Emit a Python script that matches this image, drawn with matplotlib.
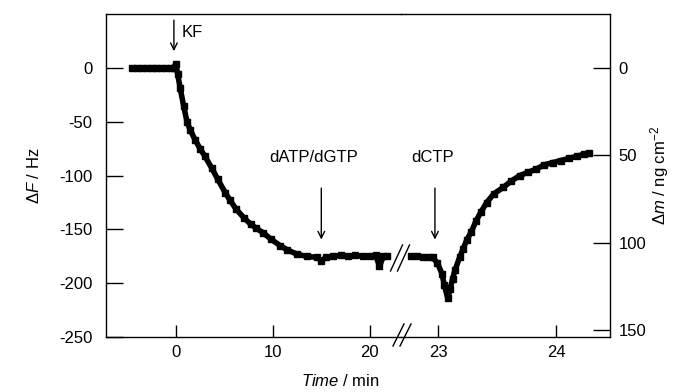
import matplotlib
matplotlib.use("Agg")
import matplotlib.pyplot as plt
from matplotlib.lines import Line2D

plt.rcParams['font.family'] = ['Liberation Sans', 'DejaVu Sans']
plt.rcParams['mathtext.fontset'] = 'custom'
plt.rcParams['mathtext.rm'] = 'Liberation Sans'
plt.rcParams['mathtext.it'] = 'Liberation Sans:italic'
plt.rcParams['axes.unicode_minus'] = False

# ---- data ----
t_left = [-4.5, -4.0, -3.5, -3.0, -2.5, -2.0, -1.5, -1.0, -0.5, -0.2, 0.0, 0.2,
          0.45, 0.8, 1.15, 1.5, 2.0, 2.5, 3.0, 3.7, 4.3, 5.1, 5.6, 6.2, 7.0, 7.7,
          8.3, 9.0, 9.8, 10.75, 11.5, 12.5, 13.5, 14.6, 15.0, 15.5, 16.2, 17.0,
          17.8, 18.5, 19.3, 20.0, 20.6, 21.0, 21.4, 21.8]
df_left = [0, 0, 0, 0, 0, 0, 0, 0, 0, 0, 4, -6,
           -19, -35, -50, -58, -67, -75, -82, -93, -103, -116, -123, -131, -139, -145,
           -149, -153, -159, -165, -169, -173, -175, -176, -179, -176, -175, -174,
           -175, -174, -175, -175, -174, -184, -175, -175]

t_right = [22.77, 22.82, 22.87, 22.92, 22.95, 22.99, 23.03, 23.05, 23.08, 23.10,
           23.12, 23.14, 23.18, 23.21, 23.24, 23.28, 23.32, 23.36, 23.41, 23.47,
           23.55, 23.62, 23.69, 23.76, 23.83, 23.90, 23.97, 24.04, 24.11, 24.18,
           24.24, 24.28]
df_right = [-175, -175, -176, -176, -176, -181, -191, -202, -214, -205,
            -196, -188, -176, -168, -160, -152, -142, -134, -125, -117,
            -111, -105, -100, -97, -94, -90, -88, -86, -84, -82,
            -80, -79]

left_xticks = [0, 10, 20]
right_xticks = [23, 24]
yticks = [0, -50, -100, -150, -200, -250]
mass_ticks = [0, 50, 100, 150]
mass_per_hz = 0.616  # ng cm^-2 per Hz

events = [("KF", 0.0), ("dATP/dGTP", 15.0), ("dCTP", 22.97)]

FS = 12

# ---- figure ----
fig = plt.figure(figsize=(6.84, 3.92), dpi=100)
ax1 = fig.add_axes([0.155, 0.140, 0.431, 0.824])
ax2 = fig.add_axes([0.586, 0.140, 0.306, 0.824], sharey=ax1)
ax3 = ax2.twinx()
for a in (ax2, ax3):
    a.patch.set_visible(False)

style = dict(color='black', marker='s', markersize=4.5, linewidth=4.0,
             solid_capstyle='butt')
ax1.plot(t_left, df_left, **style)
ax2.plot(t_right, df_right, **style)

ylo, yhi = -250, 50
ax1.set_ylim(ylo, yhi)
ax1.set_xlim(-7.2, 23.2)
ax2.set_xlim(22.68, 24.46)
ax3.set_ylim(-mass_per_hz * ylo, -mass_per_hz * yhi)

for a in (ax1, ax2, ax3):
    for s in a.spines.values():
        s.set_linewidth(1.0)

ax1.spines['right'].set_visible(False)
ax2.spines['left'].set_visible(False)
ax2.spines['right'].set_visible(False)
ax3.spines['left'].set_visible(False)
ax3.spines['top'].set_visible(False)
ax3.spines['bottom'].set_visible(False)

ax1.set_xticks(left_xticks)
ax2.set_xticks(right_xticks)
ax1.set_yticks(yticks)
ax3.set_yticks(mass_ticks)

ax1.tick_params(axis='y', direction='in', length=12, width=1, labelsize=FS, pad=10)
ax1.tick_params(axis='x', direction='in', length=9, width=1, labelsize=FS, pad=6)
ax2.tick_params(axis='x', direction='in', length=9, width=1, labelsize=FS, pad=6)
ax2.tick_params(axis='y', left=False, labelleft=False)
ax3.tick_params(axis='y', direction='in', length=12, width=1, labelsize=FS, pad=6)

ax1.set_ylabel(r'$\mathit{ΔF}$ / Hz', fontsize=FS, labelpad=12)
ax3.set_ylabel(r'$\mathit{Δm}$ / ng cm$^{-2}$', fontsize=FS, labelpad=1)
fig.text(0.497, 0.027, r'$\mathit{Time}$ / min', fontsize=FS, ha='center', va='center')

# ---- event arrows ----
arrow_kw = dict(arrowstyle='->', color='black', lw=1.0, mutation_scale=12)
name, tx = events[0]
ax1.annotate('', xy=(tx - 0.2, 13), xytext=(tx - 0.2, 47), arrowprops=arrow_kw)
ax1.text(tx + 0.6, 33, name, fontsize=FS, ha='left', va='center')

name, tx = events[1]
ax1.annotate('', xy=(tx, -162), xytext=(tx, -109), arrowprops=arrow_kw)
ax1.text(tx - 0.8, -83, name, fontsize=FS, ha='center', va='center')

name, tx = events[2]
ax2.annotate('', xy=(tx, -162), xytext=(tx, -109), arrowprops=arrow_kw)
ax2.text(tx - 0.02, -83, name, fontsize=FS, ha='center', va='center')

# ---- break markers (//) ----
def slashes(xc, yc, h, w, gap):
    for dx in (-gap / 2, gap / 2):
        fig.add_artist(Line2D([xc + dx - w / 2, xc + dx + w / 2],
                              [yc - h / 2, yc + h / 2],
                              transform=fig.transFigure, color='black', lw=1.0))

W, H = 684.0, 392.0
slashes(400 / W, 1 - 258 / H, 26 / H, 12 / W, 7 / W)
slashes(402 / W, 1 - 335 / H, 22 / H, 11 / W, 7 / W)

fig.savefig('out.png', dpi=100)
